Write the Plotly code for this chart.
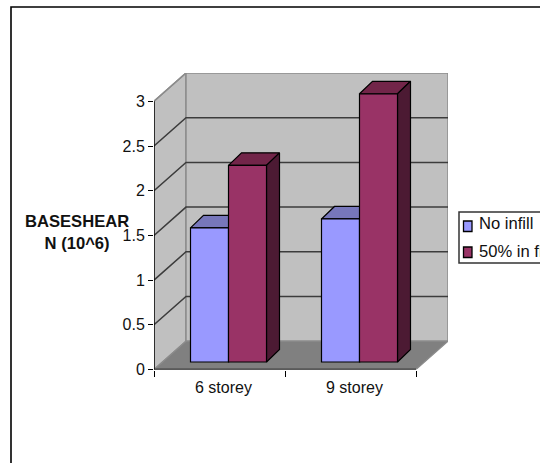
import plotly.graph_objects as go

W, H = 540, 463

categories = ["6 storey", "9 storey"]
series_names = ["No infill", "50% in fill"]
no_infill = [1.5, 1.6]
half_infill = [2.2, 3.0]
y_ticks = [0, 0.5, 1, 1.5, 2, 2.5, 3]

# Pixel scale of the drawing
X_UNIT, Y_UNIT = 131.0, 89.4
LEFT, BASE = 154.0, 369.5
DEPTH_X, DEPTH_Y = 32 / X_UNIT, 28.3 / Y_UNIT      # box depth in axis units
BAR_DX, BAR_DY = 9 / X_UNIT, 7.5 / Y_UNIT          # bars sit inside the box
BAR_DEPTH_X, BAR_DEPTH_Y = 13 / X_UNIT, 12.5 / Y_UNIT
BAR_W = 38 / X_UNIT
RIGHT_PX = LEFT + 2 * X_UNIT + 32
TOP_PX = BASE - 3 * Y_UNIT - 28.3
X_MAX = (RIGHT_PX - LEFT) / X_UNIT
Y_MAX = (BASE - TOP_PX) / Y_UNIT

WALL, FLOOR, EDGE, GRID = "#c0c0c0", "#808080", "#8c8c8c", "#3c3c3c"
BLUE, BLUE_TOP, BLUE_SIDE = "#9999ff", "#7777bb", "#4d4d80"
WINE, WINE_TOP, WINE_SIDE = "#993366", "#722549", "#4c1a33"
FONT_SIZE = 16
LABEL_SIZE = 16.6


def poly(xs, ys, fill, line="#000000", width=1.2):
    return go.Scatter(
        x=xs + xs[:1], y=ys + ys[:1], mode="lines", fill="toself", fillcolor=fill,
        line=dict(color=line, width=width), showlegend=False, hoverinfo="skip",
        cliponaxis=False,
    )


def seg(xs, ys, color, width=1.5):
    return go.Scatter(
        x=xs, y=ys, mode="lines", line=dict(color=color, width=width),
        showlegend=False, hoverinfo="skip", cliponaxis=False,
    )


def px_x(p):
    return p / W


def px_y(p):
    return (H - p) / H


fig = go.Figure()

# Walls and floor of the box
fig.add_trace(poly([0, DEPTH_X, DEPTH_X, 0], [0, DEPTH_Y, 3 + DEPTH_Y, 3], WALL, EDGE, 1.5))
fig.add_trace(poly([DEPTH_X, 2 + DEPTH_X, 2 + DEPTH_X, DEPTH_X],
                   [DEPTH_Y, DEPTH_Y, 3 + DEPTH_Y, 3 + DEPTH_Y], WALL, EDGE, 1.5))

# Gridlines wrap around the left and back walls
for t in y_ticks[1:-1]:
    fig.add_trace(seg([0, DEPTH_X, 2 + DEPTH_X], [t, t + DEPTH_Y, t + DEPTH_Y], GRID))
fig.add_trace(seg([0, DEPTH_X], [3, 3 + DEPTH_Y], EDGE))

fig.add_trace(poly([0, 2, 2 + DEPTH_X, DEPTH_X], [0, 0, DEPTH_Y, DEPTH_Y], FLOOR, EDGE, 1.2))

# Axis lines
fig.add_trace(seg([0, 0], [0, 3], "#000000", 1.4))
fig.add_trace(seg([0, 2], [0, 0], "#000000", 1.4))

# Top and side faces of the bars
for i in range(len(categories)):
    for j, (vals, top, side) in enumerate(
        [(no_infill, BLUE_TOP, BLUE_SIDE), (half_infill, WINE_TOP, WINE_SIDE)]
    ):
        x0 = i + 0.5 + BAR_DX - BAR_W + j * BAR_W
        x1 = x0 + BAR_W
        v = vals[i] + BAR_DY
        fig.add_trace(poly([x0, x1, x1 + BAR_DEPTH_X, x0 + BAR_DEPTH_X],
                           [v, v, v + BAR_DEPTH_Y, v + BAR_DEPTH_Y], top))
        fig.add_trace(poly([x1, x1 + BAR_DEPTH_X, x1 + BAR_DEPTH_X, x1],
                           [BAR_DY, BAR_DY + BAR_DEPTH_Y, v + BAR_DEPTH_Y, v], side))

# Front faces, on overlaid axes whose ranges are shifted into the box
for name, vals, color in [(series_names[0], no_infill, BLUE), (series_names[1], half_infill, WINE)]:
    fig.add_trace(go.Bar(
        x=categories, y=vals, name=name, xaxis="x2", yaxis="y2", showlegend=False,
        marker=dict(color=color, line=dict(color="#000000", width=1.2)),
    ))

# Outer frame, legend box with its swatches and labels, and the axis caption
shapes = [
    dict(type="rect", xref="paper", yref="paper", x0=px_x(11), y0=px_y(7),
         x1=1.2, y1=-0.2, line=dict(color="#000000", width=1.6), layer="below"),
    dict(type="rect", xref="paper", yref="paper", x0=px_x(459), y0=px_y(212),
         x1=1.1, y1=px_y(263), line=dict(color="#333333", width=1.5),
         fillcolor="#ffffff"),
]
annotations = [dict(
    text="<b>BASESHEAR<br>N (10^6)</b>", x=px_x(77), y=px_y(233),
    xref="paper", yref="paper", xanchor="center", yanchor="middle",
    showarrow=False, align="center",
    font=dict(size=LABEL_SIZE, color="#111111"),
)]
for name, color, top_px, mid_px in [
    (series_names[0], BLUE, 221, 224),
    (series_names[1], WINE, 247, 251),
]:
    shapes.append(dict(
        type="rect", xref="paper", yref="paper", x0=px_x(463.5), x1=px_x(472),
        y0=px_y(top_px), y1=px_y(top_px + 10.5), fillcolor=color,
        line=dict(color="#000000", width=1.3),
    ))
    annotations.append(dict(
        text=name, x=px_x(477), y=px_y(mid_px), xref="paper", yref="paper",
        xanchor="left", yanchor="middle", showarrow=False,
        font=dict(size=LABEL_SIZE, color="#111111"),
    ))

fig.update_layout(
    width=W, height=H, margin=dict(l=0, r=0, t=0, b=0, autoexpand=False),
    paper_bgcolor="#ffffff", plot_bgcolor="rgba(0,0,0,0)",
    font=dict(family="Liberation Sans", size=FONT_SIZE, color="#111111"),
    barmode="group", bargap=1 - 2 * BAR_W, bargroupgap=0,
    showlegend=False,
    xaxis=dict(
        domain=[LEFT / W, RIGHT_PX / W], range=[0, X_MAX],
        tickmode="array", tickvals=[0.53, 1.53], ticktext=categories,
        ticks="", showgrid=False, zeroline=False, showline=False, ticklabelstandoff=6,
        minor=dict(tickmode="array", tickvals=[0, 1, 2], ticks="outside", ticklen=6,
                   tickcolor="#000000", tickwidth=1.2, showgrid=False),
    ),
    yaxis=dict(
        domain=[(H - BASE) / H, (H - TOP_PX) / H], range=[0, Y_MAX],
        tickmode="array", tickvals=y_ticks, ticktext=[f"{t:g}" for t in y_ticks],
        ticks="outside", ticklen=5, tickcolor="#000000", tickwidth=1.2,
        showgrid=False, zeroline=False, showline=False,
    ),
    xaxis2=dict(
        type="category", categoryorder="array", categoryarray=categories,
        range=[-0.5 - BAR_DX, X_MAX - 0.5 - BAR_DX],
        anchor="y2", overlaying="x", visible=False,
    ),
    yaxis2=dict(
        range=[-BAR_DY, Y_MAX - BAR_DY],
        anchor="x2", overlaying="y", visible=False,
    ),
    annotations=annotations,
    shapes=shapes,
)

fig.write_html("out.html")
